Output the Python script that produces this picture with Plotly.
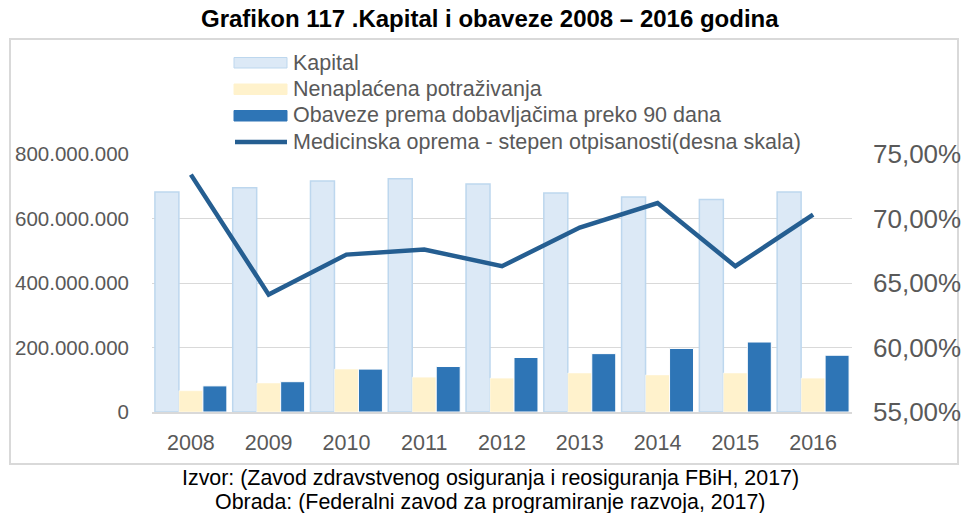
import plotly.graph_objects as go

# Data (bars in KM, write-off rate in %)
godine = ["2008", "2009", "2010", "2011", "2012", "2013", "2014", "2015", "2016"]
kapital = [682e6, 695e6, 716e6, 723e6, 707e6, 679e6, 667e6, 659e6, 682e6]
nenaplacena = [66e6, 90e6, 133e6, 108e6, 105e6, 121e6, 115e6, 121e6, 105e6]
obaveze = [81e6, 94e6, 133e6, 141e6, 169e6, 181e6, 197e6, 217e6, 176e6]
otpisanost = [73.4, 64.1, 67.2, 67.6, 66.3, 69.3, 71.2, 66.3, 70.3]

legend_names = [
    "Kapital",
    "Nenaplaćena potraživanja",
    "Obaveze prema dobavljačima preko 90 dana",
    "Medicinska oprema - stepen otpisanosti(desna skala)",
]

W, H = 968, 513
L, R, T, B = 152, 852, 154, 412  # plot area in pixels

C_KAP = "#dce9f6"
C_KAP_EDGE = "#bdd7ee"
C_NEN = "#fff2cc"
C_OBV = "#2e75b6"
C_LINE = "#255e91"
GRAY = "#595959"
GRID = "#d9d9d9"
FONT = "Arial, Liberation Sans, sans-serif"


def px(x):
    return (x - L) / (R - L)


def py(y):
    return (B - y) / (B - T)


fig = go.Figure()
fig.add_trace(go.Bar(x=godine, y=kapital, name=legend_names[0],
                     marker=dict(color=C_KAP, line=dict(color=C_KAP_EDGE, width=1.5))))
fig.add_trace(go.Bar(x=godine, y=nenaplacena, name=legend_names[1],
                     marker=dict(color=C_NEN, line=dict(color="white", width=0.5))))
fig.add_trace(go.Bar(x=godine, y=obaveze, name=legend_names[2],
                     marker=dict(color=C_OBV, line=dict(color="white", width=1))))
fig.add_trace(go.Scatter(x=godine, y=[v / 100 for v in otpisanost], name=legend_names[3],
                         yaxis="y2", mode="lines",
                         line=dict(color=C_LINE, width=4.5)))

shapes = [
    # outer frame
    dict(type="rect", xref="paper", yref="paper", x0=px(10), x1=px(958), y0=py(39), y1=py(464),
         line=dict(color=GRID, width=2), fillcolor="rgba(0,0,0,0)", layer="below"),
]
annotations = []

# legend drawn manually
rows = [62.5, 89, 115.5, 142]
for i, (name, yc) in enumerate(zip(legend_names, rows)):
    if i < 3:
        fill = [C_KAP, C_NEN, C_OBV][i]
        edge = [C_KAP_EDGE, C_NEN, C_OBV][i]
        shapes.append(dict(type="rect", xref="paper", yref="paper",
                           x0=px(234), x1=px(287), y0=py(yc - 5), y1=py(yc + 5.5),
                           fillcolor=fill, line=dict(color=edge, width=1)))
    else:
        shapes.append(dict(type="line", xref="paper", yref="paper",
                           x0=px(235), x1=px(287), y0=py(yc), y1=py(yc),
                           line=dict(color=C_LINE, width=4.5)))
    annotations.append(dict(text=name, xref="paper", yref="paper", x=px(291), y=py(yc),
                            xanchor="left", yanchor="middle", showarrow=False,
                            font=dict(family=FONT, size=21.5, color=GRAY)))

# title and footer
annotations.append(dict(text="<b>Grafikon 117 .Kapital i obaveze 2008 – 2016 godina</b>",
                        xref="paper", yref="paper", x=px(490), y=py(18),
                        xanchor="center", yanchor="middle", showarrow=False,
                        font=dict(family=FONT, size=24, color="black")))
annotations.append(dict(text="Izvor: (Zavod zdravstvenog osiguranja i reosiguranja FBiH, 2017)",
                        xref="paper", yref="paper", x=px(490), y=py(478),
                        xanchor="center", yanchor="middle", showarrow=False,
                        font=dict(family=FONT, size=21.4, color="black")))
annotations.append(dict(text="Obrada: (Federalni zavod za programiranje razvoja, 2017)",
                        xref="paper", yref="paper", x=px(490), y=py(502),
                        xanchor="center", yanchor="middle", showarrow=False,
                        font=dict(family=FONT, size=21.4, color="black")))

fig.update_layout(
    width=W, height=H,
    margin=dict(l=L, r=W - R, t=T, b=H - B, pad=0, autoexpand=False),
    paper_bgcolor="white", plot_bgcolor="white",
    separators=",.",
    barmode="group", bargap=0.075, bargroupgap=0,
    showlegend=False,
    font=dict(family=FONT, color=GRAY),
    xaxis=dict(showgrid=False, showline=True, linecolor=GRID, linewidth=1.5,
               ticks="", tickfont=dict(size=21.5, color=GRAY), ticklabelstandoff=10,
               automargin=False),
    yaxis=dict(range=[0, 800e6], tickvals=[0, 200e6, 400e6, 600e6, 800e6],
               tickformat=",.0f", showgrid=True, gridcolor=GRID, gridwidth=1,
               zeroline=False, ticks="", tickfont=dict(size=20.5, color=GRAY),
               ticklabelstandoff=22, automargin=False),
    yaxis2=dict(range=[0.55, 0.75], tickvals=[0.55, 0.60, 0.65, 0.70, 0.75],
                tickformat=".2%", overlaying="y", side="right", showgrid=False,
                zeroline=False, ticks="", tickfont=dict(size=26, color=GRAY),
                ticklabelstandoff=20, automargin=False),
    shapes=shapes,
    annotations=annotations,
)

fig.write_html("out.html")
